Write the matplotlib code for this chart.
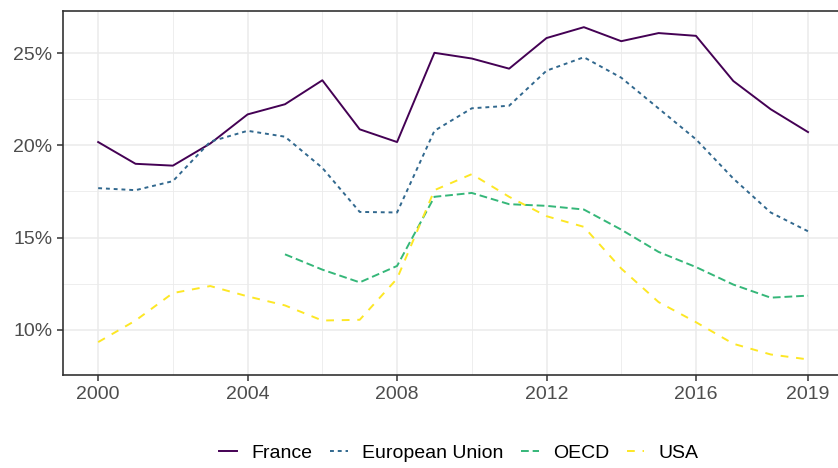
import matplotlib
matplotlib.use("Agg")
import matplotlib.pyplot as plt
from matplotlib.ticker import FixedLocator, FuncFormatter

years = list(range(2000, 2020))

france = [20.18, 19.0, 18.9, 20.1, 21.68, 22.23, 23.53, 20.87, 20.18, 25.02,
          24.71, 24.16, 25.82, 26.41, 25.65, 26.09, 25.94, 23.49, 21.96, 20.72]
eu = [17.68, 17.57, 18.06, 20.2, 20.79, 20.47, 18.78, 16.39, 16.36, 20.79,
      22.01, 22.15, 24.05, 24.78, 23.67, 22.0, 20.33, 18.2, 16.36, 15.34]
oecd_years = list(range(2005, 2020))
oecd = [14.09, 13.26, 12.57, 13.46, 17.21, 17.42, 16.81, 16.72, 16.52, 15.43,
        14.22, 13.40, 12.45, 11.74, 11.85]
usa = [9.33, 10.5, 11.99, 12.37, 11.81, 11.32, 10.5, 10.54, 12.77, 17.57,
       18.44, 17.21, 16.16, 15.58, 13.32, 11.5, 10.41, 9.24, 8.66, 8.39]

x_ticks = [2000, 2004, 2008, 2012, 2016, 2019]
x_minor = [2002, 2006, 2010, 2014, 2017.5]
y_ticks = [10, 15, 20, 25]
y_minor = [12.5, 17.5, 22.5]

plt.rcParams["font.family"] = ["Liberation Sans", "DejaVu Sans"]

fig = plt.figure(figsize=(8.38, 4.68), dpi=100)
ax = fig.add_axes([0.0748, 0.1977, 0.9318, 0.7793])

lw = 1.4
ax.plot(years, france, color="#440154", lw=lw, label="France")
ax.plot(years, eu, color="#31688E", lw=lw, dashes=(2, 2), label="European Union")
ax.plot(oecd_years, oecd, color="#35B779", lw=lw, dashes=(4, 2), label="OECD")
ax.plot(years, usa, color="#FDE725", lw=lw, dashes=(4, 4), label="USA")

ax.set_xlim(1999.05, 2019.95)
ax.set_ylim(7.52, 27.3)

ax.xaxis.set_major_locator(FixedLocator(x_ticks))
ax.xaxis.set_minor_locator(FixedLocator(x_minor))
ax.yaxis.set_major_locator(FixedLocator(y_ticks))
ax.yaxis.set_minor_locator(FixedLocator(y_minor))
ax.yaxis.set_major_formatter(FuncFormatter(lambda v, p: f"{v:.0f}%"))

ax.grid(which="major", color="#EBEBEB", lw=1.1)
ax.grid(which="minor", color="#EBEBEB", lw=0.6)
ax.set_axisbelow(True)

for side in ["left", "bottom", "top"]:
    ax.spines[side].set_color("#333333")
    ax.spines[side].set_linewidth(1.2)
ax.spines["right"].set_visible(False)

ax.tick_params(which="major", length=4, width=1.1, color="#333333",
               labelcolor="#4D4D4D", labelsize=14, pad=3.5)
ax.tick_params(which="minor", length=0)

fig.legend(loc="center", bbox_to_anchor=(0.548, 0.032), ncol=4, frameon=False,
           fontsize=14, handlelength=0.9, handletextpad=0.75, columnspacing=0.9)

fig.savefig("out.png", dpi=100)
